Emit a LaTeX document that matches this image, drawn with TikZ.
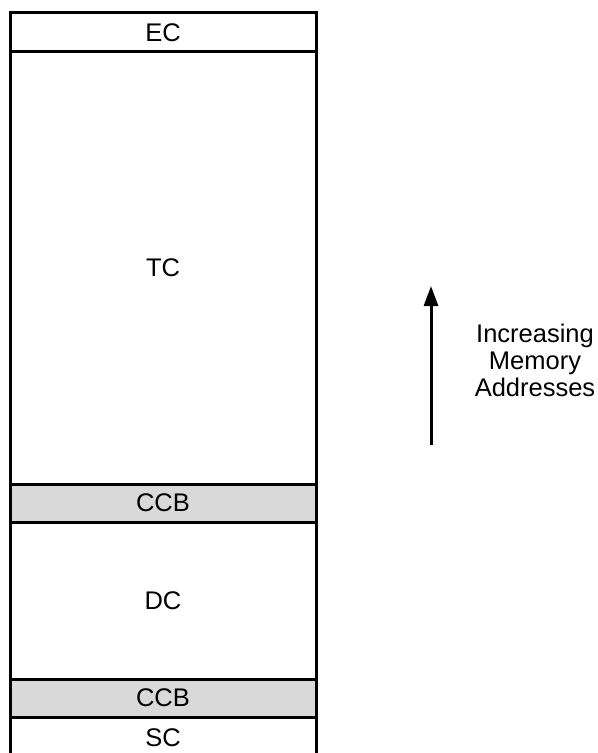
\documentclass[tikz,border=0pt]{standalone}
\usepackage{fontspec}
\setmainfont{Liberation Sans}
\usetikzlibrary{arrows.meta}

\begin{document}
\begin{tikzpicture}[x=0.5pt,y=-0.5pt,
        seg/.style={rectangle, draw, line width=1.5pt, outer sep=0pt,
            minimum width=153pt, inner sep=0pt,
            font=\fontsize{12.75}{13.5}\selectfont},
        ccb/.style={seg, fill=black!15},
        ]
        \useasboundingbox (0,0) rectangle (598,753);

        \node[seg, minimum height=19.5pt] (EC) at (163,32.5) {EC};
        \node[seg, minimum height=216pt] (TC) at (163,268) {TC};
        \node[ccb, minimum height=19pt] (CCBa) at (163,503) {CCB};
        \node[seg, minimum height=78.5pt] (DC) at (163,600.5) {DC};
        \node[ccb, minimum height=19pt] (CCBb) at (163,698) {CCB};
        \node[seg, minimum height=20.5pt] (SC) at (163,737.5) {SC};

        \coordinate (lo) at (431,445);
        \coordinate (hi) at (431,286);
        \draw[line width=1.5pt, -{Triangle[length=10pt,width=7pt]}] (lo) -- (hi);

        \node[align=center, font=\fontsize{12.75}{13.5}\selectfont] (addr) at (535,360)
            {Increasing\\Memory\\Addresses};
    \end{tikzpicture}
\end{document}
